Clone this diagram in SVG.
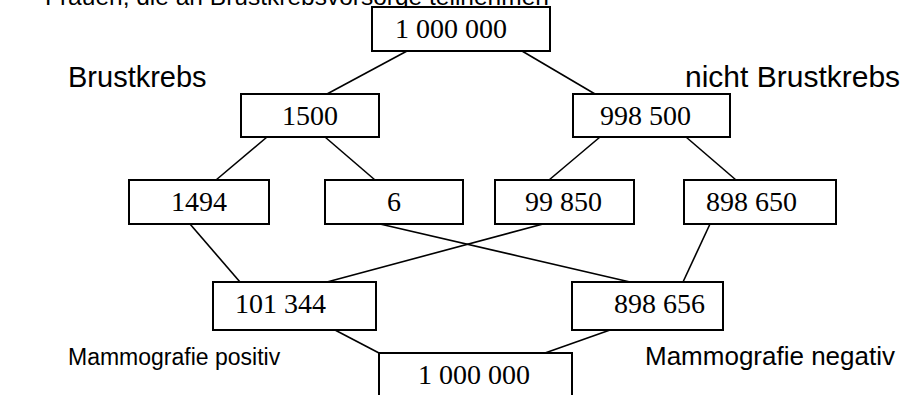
<svg xmlns="http://www.w3.org/2000/svg" width="920" height="395" viewBox="0 0 920 395">
  <style>
    .box { fill: #fff; stroke: #000; stroke-width: 2; }
    .num { font-family: "Liberation Serif", "Times New Roman", serif; font-size: 28px; fill: #000; }
    .lbl { font-family: "Liberation Sans", Arial, sans-serif; fill: #000; }
    .edge { stroke: #000; stroke-width: 1.6; fill: none; }
  </style>
  <rect width="920" height="395" fill="#fff"/>

  <!-- connectors -->
  <g id="connectors">
    <line class="edge" x1="407" y1="51" x2="327" y2="94"/>
    <line class="edge" x1="522" y1="51" x2="595" y2="94"/>
    <line class="edge" x1="267" y1="137" x2="216" y2="180"/>
    <line class="edge" x1="325" y1="137" x2="375" y2="180"/>
    <line class="edge" x1="600" y1="137" x2="549" y2="180"/>
    <line class="edge" x1="686" y1="137" x2="736" y2="180"/>
    <line class="edge" x1="190" y1="224" x2="240" y2="282"/>
    <line class="edge" x1="380" y1="224" x2="630" y2="282"/>
    <line class="edge" x1="543" y1="224" x2="327" y2="282"/>
    <line class="edge" x1="710" y1="224" x2="683" y2="282"/>
    <line class="edge" x1="335" y1="330" x2="379" y2="353"/>
    <line class="edge" x1="610" y1="330" x2="545" y2="353"/>
  </g>

  <!-- labels -->
  <g id="labels">
    <text class="lbl" x="45" y="5" font-size="24.5">Frauen, die an Brustkrebsvorsorge teilnehmen</text>
    <text class="lbl" x="68" y="87" font-size="29">Brustkrebs</text>
    <text class="lbl" x="685" y="87" font-size="30">nicht Brustkrebs</text>
    <text class="lbl" x="68" y="365" font-size="23">Mammografie positiv</text>
    <text class="lbl" x="645" y="365" font-size="26">Mammografie negativ</text>
  </g>

  <!-- nodes -->
  <g id="n-total">
    <rect class="box" x="372" y="7" width="178" height="44"/>
    <text class="num" x="395" y="38">1 000 000</text>
  </g>
  <g id="n-krebs">
    <rect class="box" x="241" y="94" width="138" height="43"/>
    <text class="num" x="310" y="125" text-anchor="middle">1500</text>
  </g>
  <g id="n-nicht-krebs">
    <rect class="box" x="573" y="94" width="157" height="43"/>
    <text class="num" x="600" y="125">998 500</text>
  </g>
  <g id="n-1494">
    <rect class="box" x="129" y="180" width="140" height="44"/>
    <text class="num" x="199" y="211" text-anchor="middle">1494</text>
  </g>
  <g id="n-6">
    <rect class="box" x="325" y="180" width="138" height="44"/>
    <text class="num" x="394" y="211" text-anchor="middle">6</text>
  </g>
  <g id="n-99850">
    <rect class="box" x="495" y="180" width="139" height="44"/>
    <text class="num" x="525" y="211">99 850</text>
  </g>
  <g id="n-898650">
    <rect class="box" x="684" y="180" width="152" height="44"/>
    <text class="num" x="706" y="211">898 650</text>
  </g>
  <g id="n-positiv">
    <rect class="box" x="213" y="282" width="163" height="48"/>
    <text class="num" x="235" y="313">101 344</text>
  </g>
  <g id="n-negativ">
    <rect class="box" x="572" y="282" width="151" height="48"/>
    <text class="num" x="614" y="313">898 656</text>
  </g>
  <g id="n-summe">
    <rect class="box" x="379" y="353" width="193" height="60"/>
    <text class="num" x="418" y="384">1 000 000</text>
  </g>
</svg>
